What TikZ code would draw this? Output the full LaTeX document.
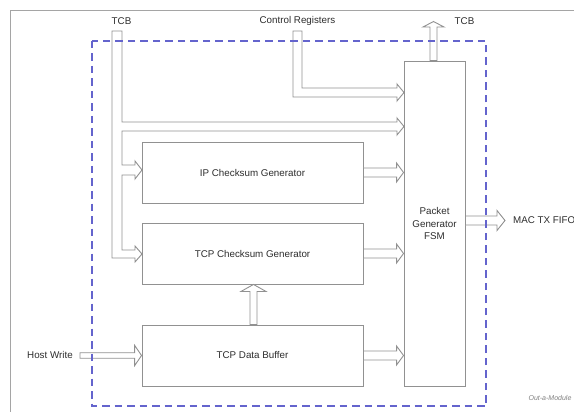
\documentclass[tikz,border=0pt]{standalone}
\usepackage{fontspec}
\setmainfont{Liberation Sans}
\usetikzlibrary{calc}
\definecolor{ln}{RGB}{145,145,145}
\definecolor{tx}{RGB}{45,45,45}
\definecolor{dsh}{RGB}{100,100,205}
\definecolor{frm}{RGB}{165,165,165}
\tikzset{
  box/.style={draw=ln, line width=0.9pt, rectangle, inner sep=0pt, fill=white, text=tx,
    font=\fontsize{9.8}{12.5}\selectfont, align=center},
  blk/.style={draw=ln, line width=0.9pt, fill=white, line join=miter},
  lbl/.style={text=tx, font=\fontsize{9.8}{12}\selectfont, inner sep=0pt},
  boundary/.style={draw=dsh, line width=1.2pt, dash pattern=on 7.5pt off 5pt},
}
% horizontal block arrow: start point, tip point, half width, flare, head length
\newcommand\rblk[5]{\draw[blk] let \p1=#1, \p2=#2 in
  (\x1,\y1+#3) -- (\x2-#5,\y1+#3) -- (\x2-#5,\y1+#3+#4) -- (\x2,\y1)
  -- (\x2-#5,\y1-#3-#4) -- (\x2-#5,\y1-#3) -- (\x1,\y1-#3) -- cycle;}
% vertical (upward) block arrow: start point, tip point, half width, flare, head length
\newcommand\ublk[5]{\draw[blk] let \p1=#1, \p2=#2 in
  (\x1-#3,\y1) -- (\x1-#3,\y2-#5) -- (\x1-#3-#4,\y2-#5) -- (\x1,\y2)
  -- (\x1+#3+#4,\y2-#5) -- (\x1+#3,\y2-#5) -- (\x1+#3,\y1) -- cycle;}
\begin{document}
\begin{tikzpicture}[x=1pt,y=-1pt]
\useasboundingbox (0,0) rectangle (574,412);
\fill[white] (0,0) rectangle (574,412);
\draw[frm, line width=0.9pt] (10.5,10.5) rectangle (620,450);

% labels
\node[lbl] (tcbin) at (121.5,21) {TCB};
\node[lbl] (ctrl) at (297.5,21) {Control Registers};
\node[lbl] (tcbout) at (464.5,21) {TCB};
\node[lbl, anchor=west] (mac) at (513,220.5) {MAC TX FIFO};
\node[lbl] (host) at (50,355) {Host Write};
\node[font=\fontsize{7}{8}\selectfont\itshape, text=gray, inner sep=0pt] (wm) at (550,398) {Out-a-Module};

% TCB trunk with three branches
\draw[blk] (112,31) -- (122,31) -- (122,122) -- (397,122) -- (397,118) -- (404,126.5)
  -- (397,135) -- (397,131) -- (122,131) -- (122,165) -- (135,165) -- (135,161)
  -- (142,170) -- (135,179) -- (135,175) -- (122,175) -- (122,250) -- (135,250)
  -- (135,246) -- (142,254) -- (135,262) -- (135,258) -- (112,258) -- cycle;

% Control registers bent arrow
\draw[blk] (293,31) -- (302,31) -- (302,88) -- (397,88) -- (397,84) -- (404,92.5)
  -- (397,101) -- (397,97) -- (293,97) -- cycle;

% boxes
\node[box, minimum width=221pt, minimum height=61pt] (ip) at (252.5,172.5) {IP Checksum Generator};
\node[box, minimum width=221pt, minimum height=61pt] (tcp) at (252.5,253.5) {TCP Checksum Generator};
\node[box, minimum width=221pt, minimum height=61pt] (buf) at (252.5,355.5) {TCP Data Buffer};
\node[box, minimum width=61pt, minimum height=325pt] (fsm) at (434.5,223.5) {Packet\\Generator\\FSM};

% arrows between boxes
\rblk{(ip.east)}{(fsm.west)}{4.5pt}{5pt}{7pt}
\rblk{(tcp.east)}{(fsm.west)}{4.5pt}{5pt}{7pt}
\rblk{(buf.east)}{(fsm.west)}{4.5pt}{5pt}{7pt}
\ublk{($(buf.north)+(1,0)$)}{(tcp.south)}{3.5pt}{9pt}{7pt}
\rblk{($(host.east)+(7,0.5)$)}{(buf.west)}{2.75pt}{7.5pt}{7pt}
\rblk{($(fsm.east)+(0,-3)$)}{($(mac.west)+(-8,0)$)}{4.5pt}{5.5pt}{8pt}
\coordinate (tcbtip) at (433.5,21.5);
\ublk{($(fsm.north)+(-1,0)$)}{(tcbtip)}{3.5pt}{7pt}{5.5pt}

% module boundary
\draw[boundary] (92,41) rectangle (486,406);
\end{tikzpicture}
\end{document}
